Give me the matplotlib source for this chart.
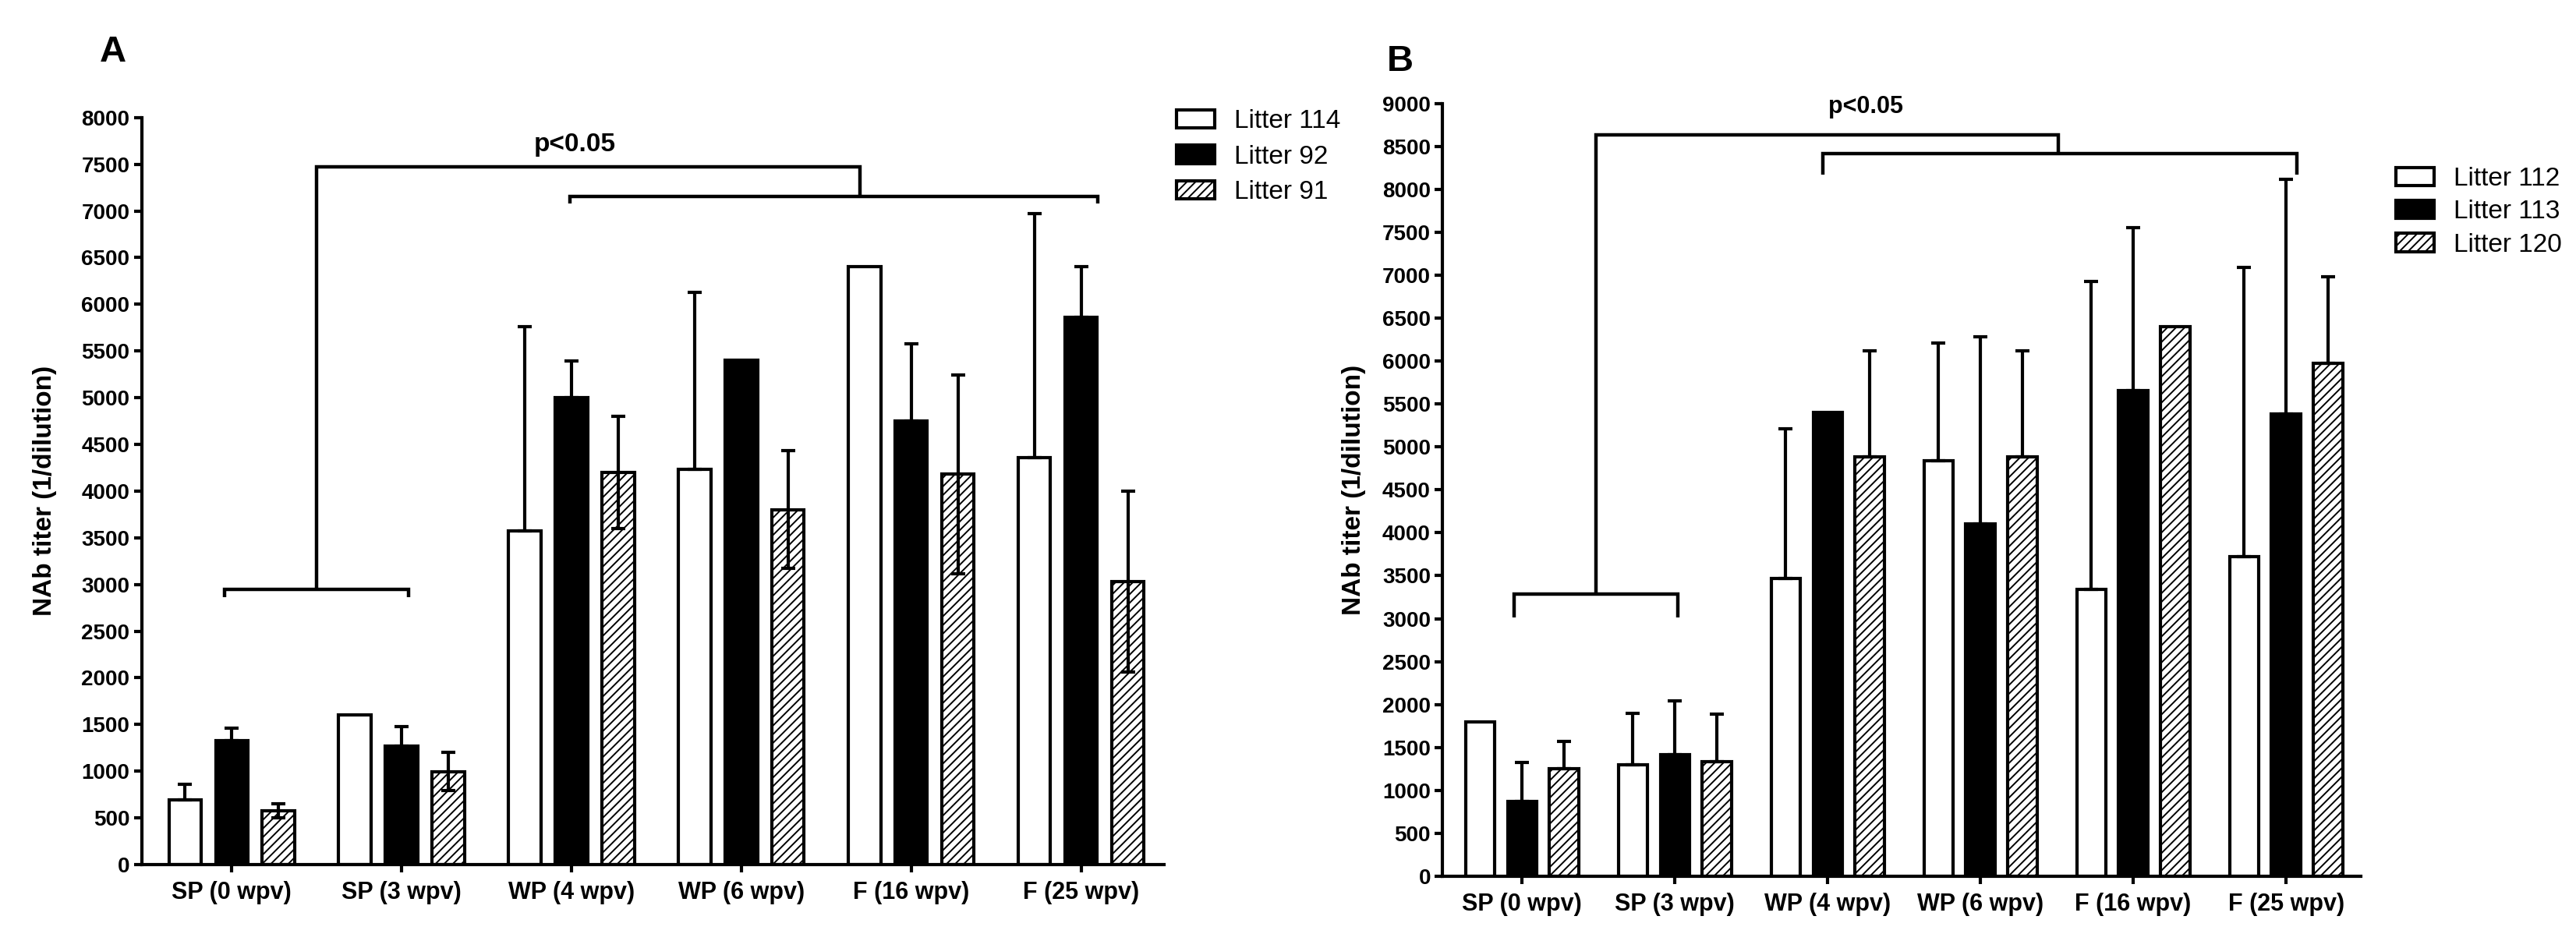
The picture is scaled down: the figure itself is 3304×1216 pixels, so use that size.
import numpy as np
import matplotlib
matplotlib.use("Agg")
import matplotlib.pyplot as plt

plt.rcParams['font.family'] = ['Liberation Sans', 'DejaVu Sans']
plt.rcParams['hatch.linewidth'] = 1.4

groups = ["SP (0 wpv)", "SP (3 wpv)", "WP (4 wpv)", "WP (6 wpv)", "F (16 wpv)", "F (25 wpv)"]

# panel A
labels_a = ["Litter 114", "Litter 92", "Litter 91"]
a114_mean = [690, 1600, 3570, 4230, 6400, 4360]
a114_sd = [170, 0, 2190, 1900, 0, 2610]
a92_mean = [1330, 1270, 5000, 5400, 4750, 5860]
a92_sd = [135, 210, 390, 0, 830, 545]
a91_mean = [575, 995, 4200, 3800, 4180, 3030]
a91_sd = [78, 205, 600, 630, 1065, 965]

# panel B
labels_b = ["Litter 112", "Litter 113", "Litter 120"]
b112_mean = [1800, 1300, 3470, 4840, 3345, 3725]
b112_sd = [0, 598, 1745, 1370, 3580, 3365]
b113_mean = [870, 1415, 5400, 4105, 5655, 5380]
b113_sd = [460, 625, 0, 2175, 1900, 2735]
b120_mean = [1255, 1337, 4880, 4880, 6400, 5970]
b120_sd = [317, 552, 1235, 1235, 0, 1015]

LW = 3.0
styles = [dict(facecolor="white", hatch=None),
          dict(facecolor="black", hatch=None),
          dict(facecolor="white", hatch="///")]


def draw_panel(ax, means, sds, labels, ymax, both_dirs):
    x = np.arange(len(groups))
    off = [-0.275, 0, 0.275]
    for i in range(3):
        m = np.array(means[i], dtype=float)
        s = np.array(sds[i], dtype=float)
        ax.bar(x + off[i], m, width=0.19, edgecolor="black", linewidth=LW,
               label=labels[i], zorder=2, **styles[i])
        k = s > 0
        lower = s[k] if (both_dirs and i == 2) else np.zeros(k.sum())
        ax.errorbar(x[k] + off[i], m[k], yerr=[lower, s[k]], fmt="none",
                    ecolor="black", elinewidth=LW, capsize=6.5, capthick=LW,
                    zorder=3)
    ax.set_ylim(0, ymax)
    ax.set_yticks(np.arange(0, ymax + 1, 500))
    ax.set_xticks(x)
    ax.set_xticklabels(groups, fontsize=22, fontweight="bold")
    for t in ax.get_yticklabels():
        t.set_fontsize(20)
        t.set_fontweight("bold")
    ax.spines["top"].set_visible(False)
    ax.spines["right"].set_visible(False)
    ax.spines["left"].set_linewidth(LW)
    ax.spines["bottom"].set_linewidth(LW)
    ax.tick_params(axis="y", width=LW, length=7, pad=4)
    ax.tick_params(axis="x", width=LW, length=7, pad=8)
    ax.set_ylabel("NAb titer (1/dilution)", fontsize=24, fontweight="bold")


def line(ax, xs, ys):
    ax.plot(xs, ys, color="black", lw=3.2, clip_on=False, zorder=4,
            solid_joinstyle="miter", solid_capstyle="butt")


fig = plt.figure(figsize=(33.04, 12.16), dpi=100)

ax1 = fig.add_axes([0.055, 0.088, 0.397, 0.788])
draw_panel(ax1, [a114_mean, a92_mean, a91_mean], [a114_sd, a92_sd, a91_sd],
           labels_a, 8000, True)
ax1.set_xlim(-0.53, 5.49)
ax1.yaxis.set_label_coords(-0.083, 0.5)
line(ax1, [-0.04, -0.04, 1.04, 1.04], [2860, 2950, 2950, 2860])
line(ax1, [0.5, 0.5, 3.70, 3.70], [2950, 7470, 7470, 7157])
line(ax1, [1.99, 1.99, 5.10, 5.10], [7080, 7157, 7157, 7080])
ax1.text(2.02, 7707, "p<0.05", ha="center", va="center", fontsize=24,
         fontweight="bold")
ax1.legend(loc="upper left", bbox_to_anchor=(0.4567, 0.885),
           bbox_transform=fig.transFigure, frameon=False, fontsize=24,
           handlelength=1.47, handleheight=0.7, handletextpad=0.75,
           labelspacing=0.44, borderpad=0, borderaxespad=0)
fig.text(0.044, 0.945, "A", fontsize=34, fontweight="bold", ha="center",
         va="center")

ax2 = fig.add_axes([0.560, 0.0756, 0.3565, 0.8154])
draw_panel(ax2, [b112_mean, b113_mean, b120_mean], [b112_sd, b113_sd, b120_sd],
           labels_b, 9000, False)
ax2.set_xlim(-0.52, 5.49)
ax2.yaxis.set_label_coords(-0.083, 0.5)
line(ax2, [-0.05, -0.05, 1.02, 1.02], [3014, 3289, 3289, 3014])
line(ax2, [0.485, 0.485, 3.51, 3.51], [3289, 8634, 8634, 8415])
line(ax2, [1.97, 1.97, 5.07, 5.07], [8170, 8415, 8415, 8170])
ax2.text(2.25, 8960, "p<0.05", ha="center", va="center", fontsize=22,
         fontweight="bold")
ax2.legend(loc="upper left", bbox_to_anchor=(0.930, 0.824),
           bbox_transform=fig.transFigure, frameon=False, fontsize=24,
           handlelength=1.47, handleheight=0.7, handletextpad=0.75,
           labelspacing=0.34, borderpad=0, borderaxespad=0)
fig.text(0.5436, 0.935, "B", fontsize=34, fontweight="bold", ha="center",
         va="center")

fig.savefig("out.png", dpi=100)
